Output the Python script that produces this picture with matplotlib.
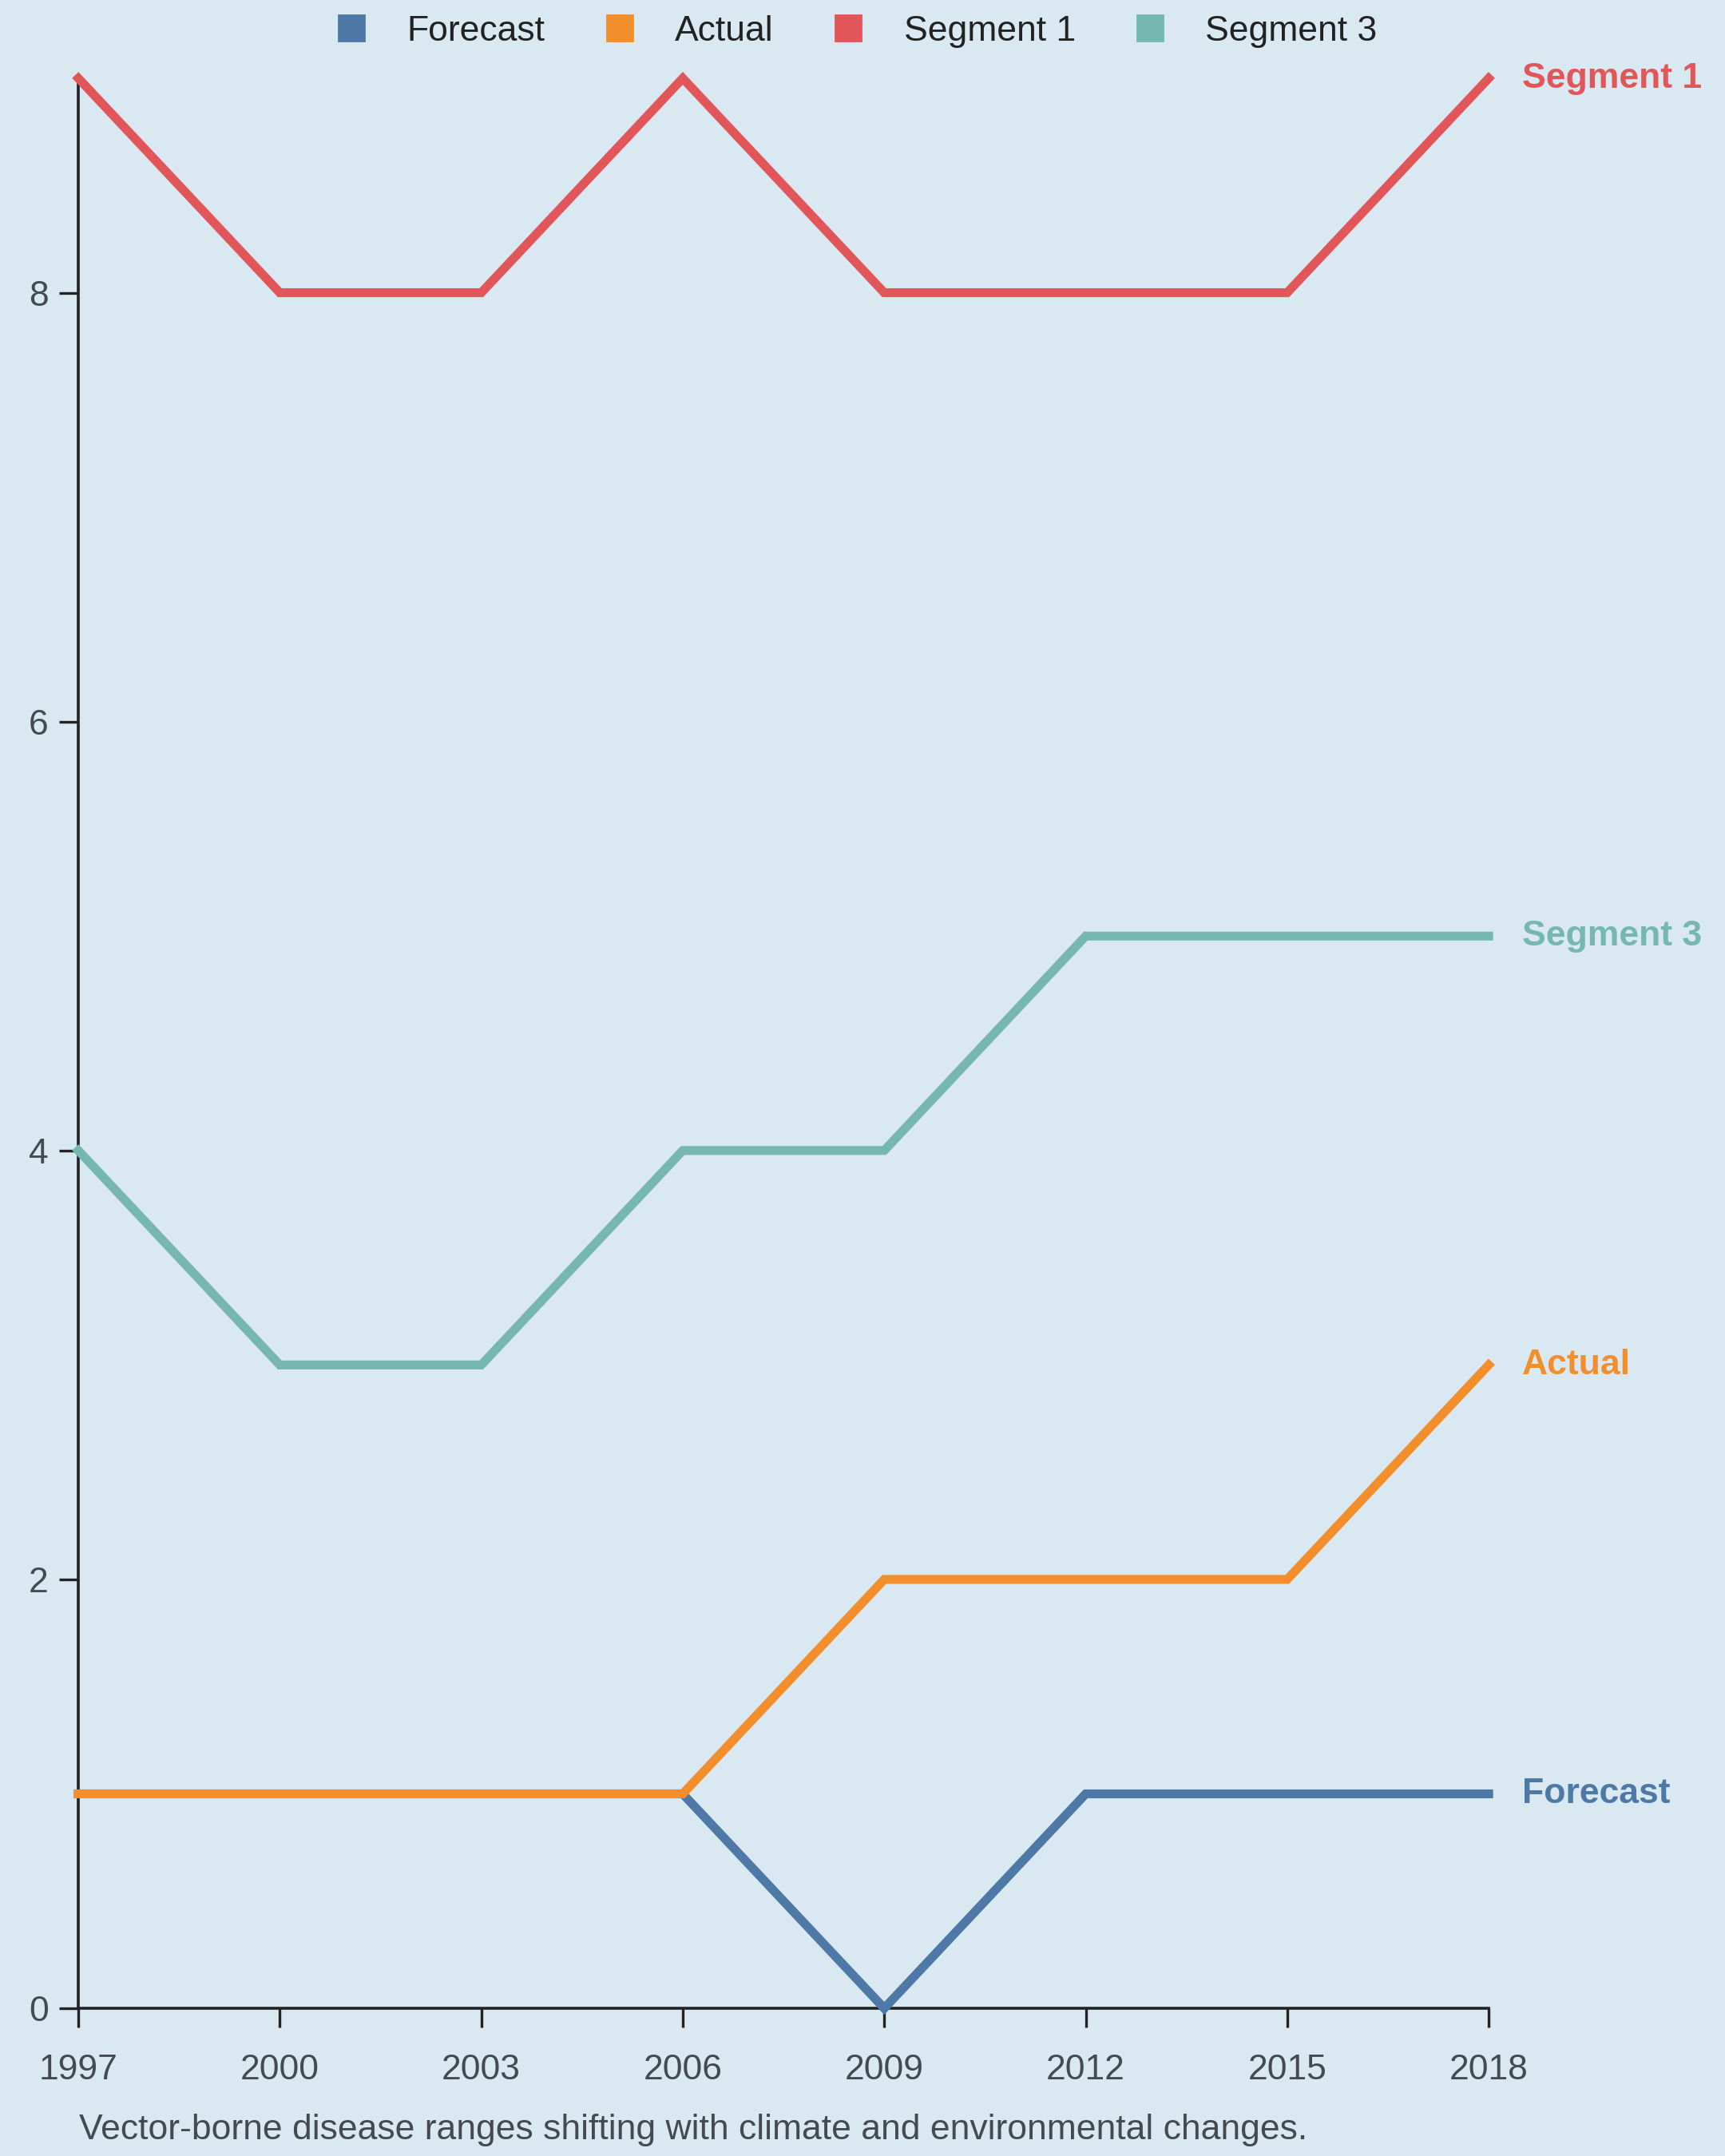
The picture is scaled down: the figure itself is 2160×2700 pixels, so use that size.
import matplotlib
matplotlib.use("Agg")
import matplotlib.pyplot as plt
from matplotlib.lines import Line2D

plt.rcParams['font.family'] = ['Liberation Sans', 'DejaVu Sans']

# data
years = [1997, 2000, 2003, 2006, 2009, 2012, 2015, 2018]
forecast = [1, 1, 1, 1, 0, 1, 1, 1]
actual = [1, 1, 1, 1, 2, 2, 2, 3]
segment_1 = [9, 8, 8, 9, 8, 8, 8, 9]
segment_3 = [4, 3, 3, 4, 4, 5, 5, 5]

names = ['Forecast', 'Actual', 'Segment 1', 'Segment 3']
series = [forecast, actual, segment_1, segment_3]
colors = ['#4e79a7', '#f28e2b', '#e15759', '#76b7b2']

BG = '#dae8f1'
TXT = '#444a52'

fig = plt.figure(figsize=(10.8, 13.5), dpi=200, facecolor=BG)
ax = fig.add_axes([0.0454, 0.0685, 0.8176, 0.8952], facecolor=BG)

for name, vals, col in zip(names, series, colors):
    ax.plot(years, vals, color=col, lw=4.0, clip_on=False, solid_joinstyle='miter', zorder=3)
    ax.annotate(name, xy=(years[-1], vals[-1]), xytext=(15, 0), textcoords='offset points',
                va='center', ha='left', fontsize=16, fontweight='bold', color=col)

ax.set_xlim(1997, 2018)
ax.set_ylim(0, 9)
ax.set_xticks(years)
ax.set_yticks([0, 2, 4, 6, 8])

for s in ['top', 'right']:
    ax.spines[s].set_visible(False)
for s in ['left', 'bottom']:
    ax.spines[s].set_color('#222222')
    ax.spines[s].set_linewidth(1.3)
ax.tick_params(axis='both', length=8.5, width=1.2, color='#222222', labelsize=16,
               labelcolor=TXT, pad=5)
ax.tick_params(axis='x', pad=12)

# legend across the top
handles = [Line2D([], [], marker='s', ls='none', ms=11.5, color=c) for c in colors]
fig.legend(handles, names, loc='center', bbox_to_anchor=(0.496, 0.9855), ncol=4,
           frameon=False, fontsize=16, handlelength=1.0, handletextpad=1.06,
           columnspacing=1.6, labelcolor='#222222')

fig.text(0.0458, 0.012, 'Vector-borne disease ranges shifting with climate and environmental changes.',
         fontsize=16, color=TXT, ha='left', va='center')

fig.savefig('out.png', dpi=200, facecolor=BG)
